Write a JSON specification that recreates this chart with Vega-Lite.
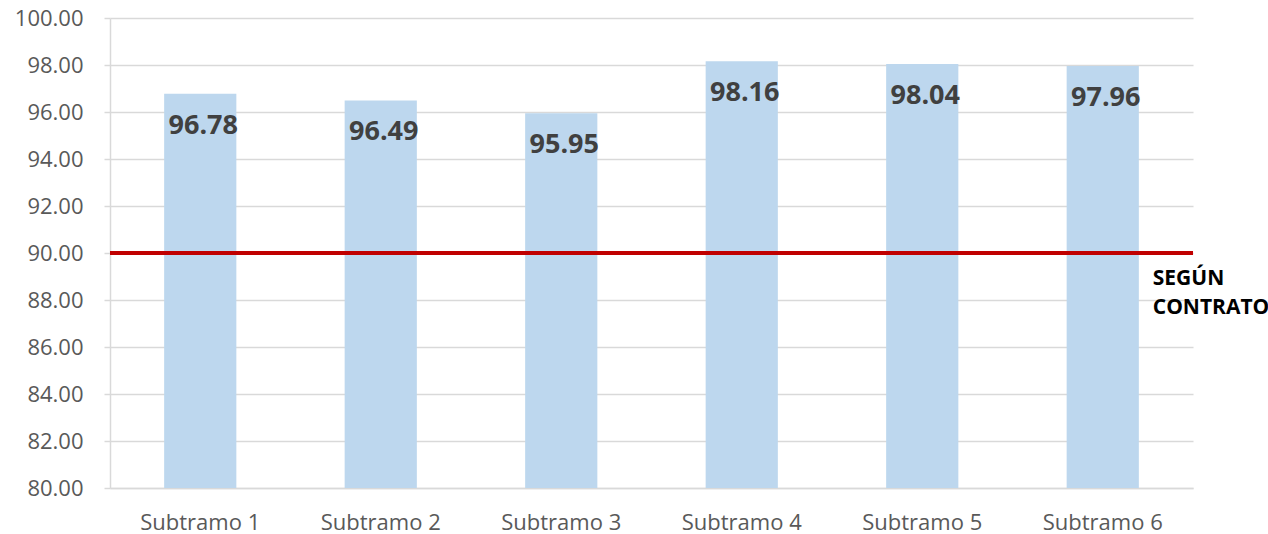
{
  "$schema": "https://vega.github.io/schema/vega-lite/v6.json",
  "width": 1083,
  "height": 470,
  "autosize": {"type": "none"},
  "padding": {"left": 110, "top": 18, "right": 75, "bottom": 46},
  "background": "white",
  "config": {
    "view": {"stroke": null},
    "font": "Open Sans"
  },
  "datasets": {
    "bars": [
      {"subtramo": "Subtramo 1", "valor": 96.78},
      {"subtramo": "Subtramo 2", "valor": 96.49},
      {"subtramo": "Subtramo 3", "valor": 95.95},
      {"subtramo": "Subtramo 4", "valor": 98.16},
      {"subtramo": "Subtramo 5", "valor": 98.04},
      {"subtramo": "Subtramo 6", "valor": 97.96}
    ],
    "umbral": [
      {"subtramo": "Subtramo 6", "umbral": 90, "etiqueta": "SEGÚN CONTRATO"}
    ]
  },
  "layer": [
    {
      "data": {"name": "bars"},
      "mark": {"type": "bar", "color": "#BDD7EE", "clip": true},
      "encoding": {
        "x": {
          "field": "subtramo", "type": "nominal", "sort": null,
          "scale": {"paddingInner": 0.6, "paddingOuter": 0.3},
          "axis": {
            "title": null, "labelAngle": 0, "ticks": false, "tickSize": 0,
            "domainColor": "#D9D9D9", "domainWidth": 1.5,
            "labelFont": "Open Sans", "labelFontSize": 22, "labelColor": "#595959",
            "labelPadding": 24
          }
        },
        "y": {
          "field": "valor", "type": "quantitative",
          "scale": {"domain": [80, 100], "nice": false, "zero": false},
          "axis": {
            "title": null, "values": [80, 82, 84, 86, 88, 90, 92, 94, 96, 98, 100],
            "format": ".2f", "grid": true, "gridColor": "#D9D9D9", "gridWidth": 1.5,
            "domainColor": "#D9D9D9", "domainWidth": 1.5,
            "tickColor": "#D9D9D9", "tickSize": 6, "tickWidth": 1.5,
            "labelFont": "Open Sans", "labelFontSize": 22, "labelColor": "#595959",
            "labelPadding": 21
          }
        }
      }
    },
    {
      "data": {"name": "umbral"},
      "mark": {"type": "rule", "color": "#C00000", "strokeWidth": 4},
      "encoding": {
        "y": {"field": "umbral", "type": "quantitative"}
      }
    },
    {
      "data": {"name": "umbral"},
      "mark": {
        "type": "text", "align": "left", "baseline": "alphabetic",
        "dx": 50, "dy": 32, "lineBreak": " ", "lineHeight": 29,
        "font": "Open Sans", "fontWeight": "bold", "fontSize": 21, "color": "#000000"
      },
      "encoding": {
        "x": {"field": "subtramo", "type": "nominal", "sort": null},
        "y": {"field": "umbral", "type": "quantitative"},
        "text": {"field": "etiqueta"}
      }
    },
    {
      "data": {"name": "bars"},
      "mark": {
        "type": "text", "align": "center", "baseline": "alphabetic",
        "dx": 3, "dy": 40,
        "font": "Open Sans", "fontWeight": "bold", "fontSize": 27, "color": "#404040"
      },
      "encoding": {
        "x": {"field": "subtramo", "type": "nominal", "sort": null},
        "y": {"field": "valor", "type": "quantitative"},
        "text": {"field": "valor", "type": "quantitative", "format": ".2f"}
      }
    }
  ]
}
